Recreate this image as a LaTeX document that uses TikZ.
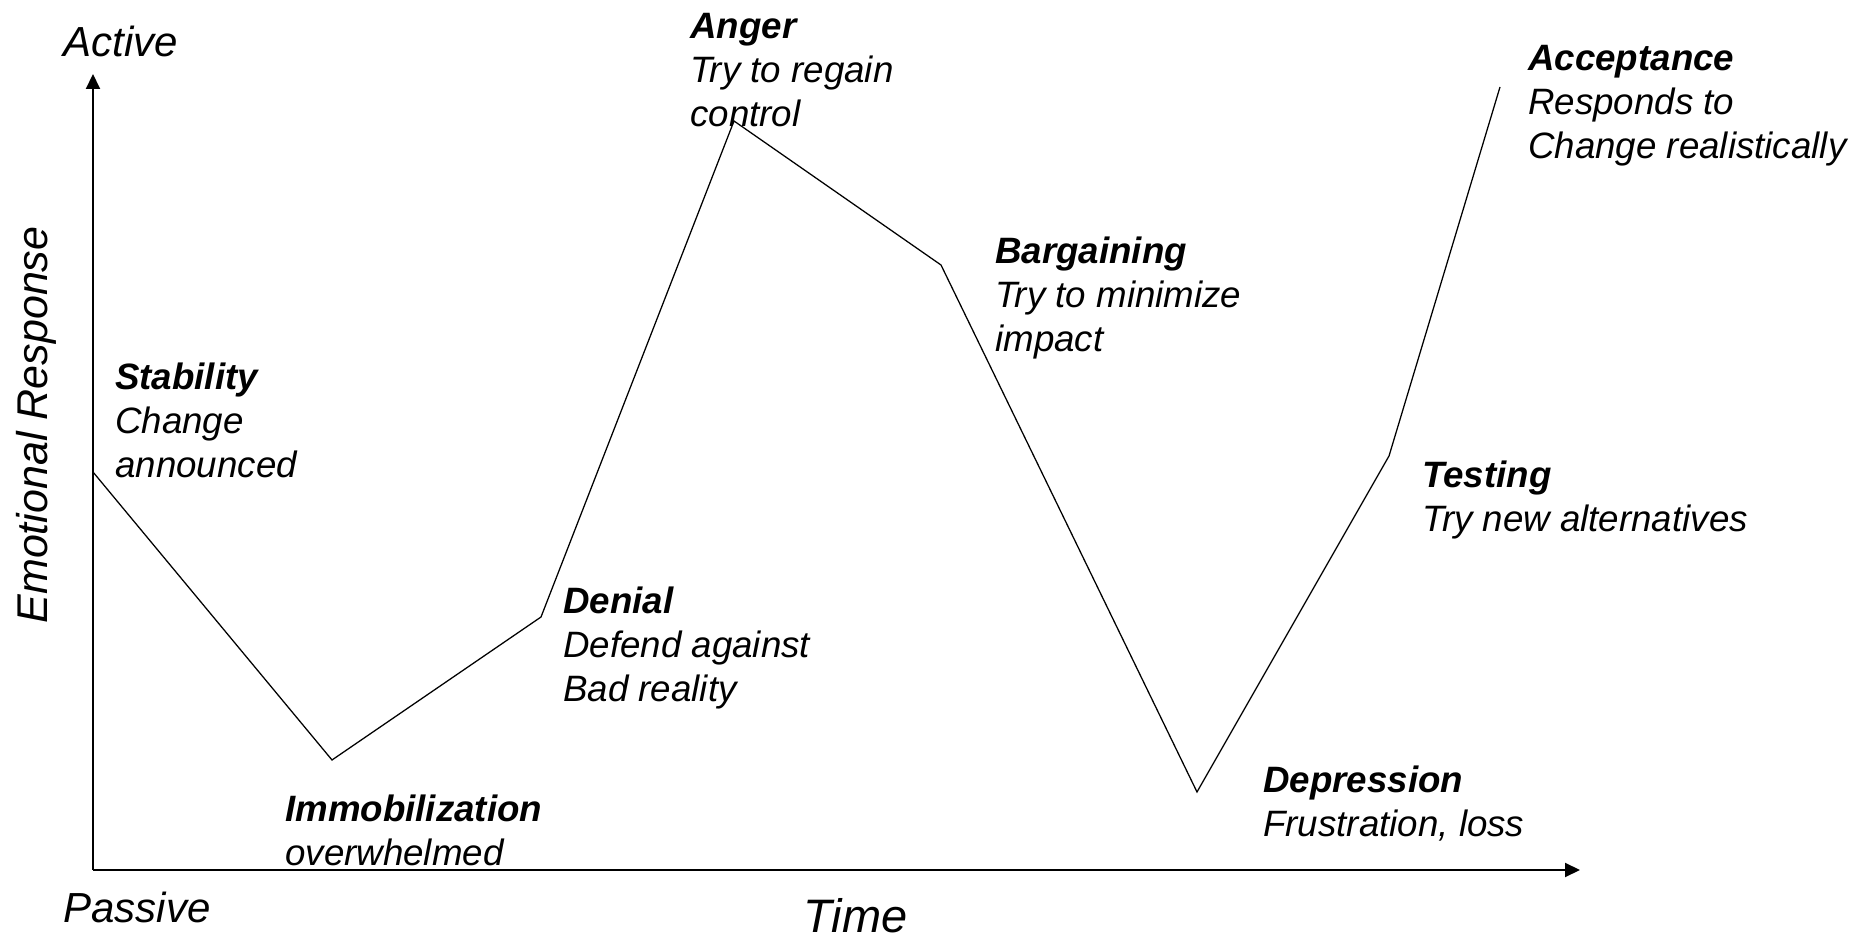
\documentclass[tikz,border=0pt]{standalone}
\usepackage{fontspec}
\setmainfont{Liberation Sans}
\usetikzlibrary{arrows.meta}

\tikzset{
  stage/.style={anchor=base west, align=left, inner sep=0pt,
    font=\itshape\fontsize{26.1}{31.5}\selectfont},
  axislabel/.style={anchor=base west, inner sep=0pt,
    font=\itshape\fontsize{29.9}{34}\selectfont},
  axisline/.style={line width=1.4pt, -{Triangle[length=0.375cm,width=0.35cm]}}
}

\begin{document}
\begin{tikzpicture}
\useasboundingbox (-2.325,-1.75) rectangle (44.525,21.75);
% axes
\coordinate (O) at (0,0);
\coordinate (ytop) at (0,19.9);
\coordinate (xend) at (37.175,0);
\draw[axisline] (O) -- (ytop);
\draw[axisline] (O) -- (xend);
\node[axislabel] (active) at (-0.75,20.325) {Active};
\node[axislabel] (passive) at (-0.75,-1.325) {Passive};
\node[axislabel, font=\itshape\fontsize{33.4}{38}\selectfont] (time) at (17.75,-1.55) {Time};
\node[anchor=base, rotate=90, inner sep=0pt, font=\itshape\fontsize{30.6}{35}\selectfont]
  (response) at (-1.125,11.125) {Emotional Response};
% the curve
\coordinate (stability) at (0,9.95);
\coordinate (immobilization) at (5.975,2.75);
\coordinate (denial) at (11.2,6.325);
\coordinate (anger) at (16.025,18.725);
\coordinate (bargaining) at (21.2,15.125);
\coordinate (depression) at (27.6,1.95);
\coordinate (testing) at (32.4,10.35);
\coordinate (acceptance) at (35.175,19.575);
\draw[line width=0.9pt, line join=miter] (stability) -- (immobilization) -- (denial) -- (anger)
  -- (bargaining) -- (depression) -- (testing) -- (acceptance);
% stage labels (placed by the baseline of their last line)
\node[stage] (stabilityl) at (0.55,9.8) {\textbf{Stability}\\Change\\announced};
\node[stage] (immobilizationl) at (4.8,0.1) {\textbf{Immobilization}\\overwhelmed};
\node[stage] (deniall) at (11.75,4.2) {\textbf{Denial}\\Defend against\\Bad reality};
\node[stage] (angerl) at (14.925,18.575) {\textbf{Anger}\\Try to regain\\control};
\node[stage] (bargainingl) at (22.55,12.96) {\textbf{Bargaining}\\Try to minimize\\impact};
\node[stage] (depressionl) at (29.25,0.825) {\textbf{Depression}\\Frustration, loss};
\node[stage] (testingl) at (33.225,8.45) {\textbf{Testing}\\Try new alternatives};
\node[stage] (acceptancel) at (35.875,17.775) {\textbf{Acceptance}\\Responds to\\Change realistically};
\end{tikzpicture}
\end{document}
